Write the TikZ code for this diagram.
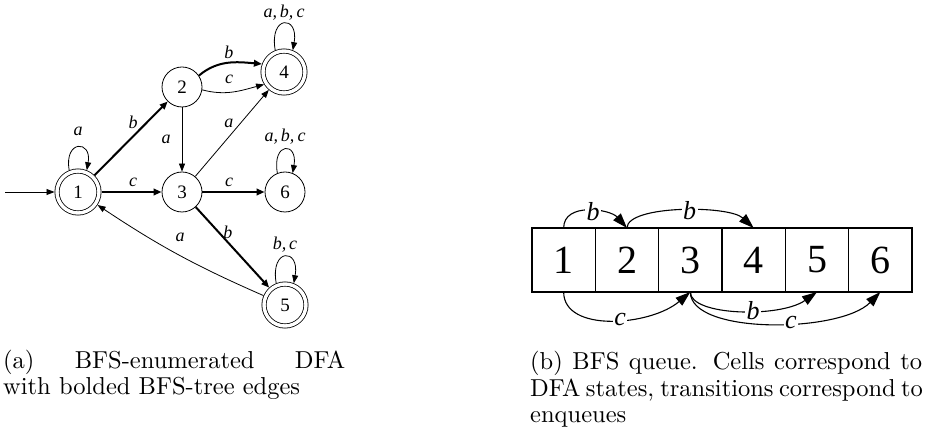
\documentclass[tikz,border=0pt]{standalone}
\usepackage{fontspec}
\newfontfamily\tms{Liberation Serif}
\newfontfamily\capfont{lmroman10-regular.otf}
\usetikzlibrary{arrows.meta}

\begin{document}
\begin{tikzpicture}[x=1pt,y=1pt,
  state/.style={circle, draw, line width=0.8pt, minimum size=40pt, inner sep=0pt,
    font=\tms\fontsize{19}{19}\selectfont},
  accepting/.style={double, double distance=3.4pt, outer sep=2.5pt, minimum size=42pt},
  thinedge/.style={line width=0.8pt, -{Triangle[length=8pt,width=6pt]}},
  boldedge/.style={line width=2pt, -{Triangle[length=8pt,width=6.5pt]}},
  lbl/.style={inner sep=1pt, font=\tms\itshape\fontsize{18}{18}\selectfont},
  cell/.style={draw, line width=1.2pt, minimum width=63.33pt, minimum height=64pt,
    inner sep=0pt, outer sep=0pt, font=\tms\fontsize{40}{40}\selectfont},
  qarrow/.style={line width=1.1pt, -{Triangle[length=15pt,width=10pt]}},
  qlbl/.style={fill=white, inner sep=1.5pt, font=\tms\itshape\fontsize{26}{26}\selectfont},
  caption/.style={inner sep=0pt, anchor=base west,
    font=\capfont\fontsize{24.5}{26.5}\selectfont}
]
\useasboundingbox (0,0) rectangle (934,431);

% ---------- DFA ----------
\node[state, accepting] (n1) at (78,239) {1};
\node[state]            (n2) at (182,344) {2};
\node[state]            (n3) at (182,239) {3};
\node[state, accepting] (n4) at (284,359) {4};
\node[state]            (n6) at (285,239) {6};
\node[state, accepting] (n5) at (285,126) {5};
\coordinate (init) at (5,239);

\draw[thinedge] (init) -- (n1);

% BFS-tree edges
\draw[boldedge] (n1) -- node[lbl, xshift=2pt, yshift=16.4pt] {b} (n2);
\draw[boldedge] (n1) -- node[lbl, xshift=1.5pt, yshift=10pt] {c} (n3);
\draw[boldedge] (n2.34) to[out=40, in=175]
  node[lbl, xshift=0.7pt, yshift=11pt] {b} (n4.160);
\draw[boldedge] (n3) -- node[lbl, xshift=-4.5pt, yshift=10pt] {c} (n6);
\draw[boldedge] (n3) -- node[lbl, xshift=-4.5pt, yshift=15.4pt] {b} (n5);

% remaining transitions
\draw[thinedge] (n2.-8) to[out=-15, in=195]
  node[lbl, xshift=-4pt, yshift=12pt] {c} (n4.212);
\draw[thinedge] (n2) -- node[lbl, xshift=-16pt, yshift=0.5pt] {a} (n3);
\draw[thinedge] (n3) -- node[lbl, xshift=-3pt, yshift=10.2pt] {a} (n4);
\draw[thinedge] (n5) to[bend left=5] node[lbl, xshift=2pt, yshift=17pt] {a} (n1);

% self loops
\draw[thinedge] (n1.112) .. controls +(100:31) and +(80:31) .. (n1.68)
  node[lbl, pos=0.5, above=10pt] {a};
\draw[thinedge] (n4.112) .. controls +(100:36) and +(80:36) .. (n4.68)
  node[lbl, pos=0.5, above=2pt] {a,\,b,\,c};
\draw[thinedge] (n6.112) .. controls +(100:32) and +(80:32) .. (n6.68)
  node[lbl, pos=0.5, above=4pt] {a,\,b,\,c};
\draw[thinedge] (n5.112) .. controls +(100:36) and +(80:36) .. (n5.68)
  node[lbl, pos=0.5, above=3pt] {b,\,c};

% ---------- BFS queue ----------
\node[cell] (q1) at (563.67,171) {1};
\node[cell] (q2) at (627.00,171) {2};
\node[cell] (q3) at (690.33,171) {3};
\node[cell] (q4) at (753.67,171) {4};
\node[cell] (q5) at (817.00,171) {5};
\node[cell] (q6) at (880.33,171) {6};

\draw[qarrow] (q1.north) .. controls +(0,26) and +(-17,19) .. (q2.north)
  node[qlbl, pos=0.55] {b};
\draw[qarrow] (q2.north) .. controls +(0,23) and +(-25,23) .. (q4.north)
  node[qlbl, pos=0.55] {b};
\draw[qarrow] (q1.south) .. controls +(0,-41) and +(-40,-34) .. (q3.south)
  node[qlbl, pos=0.55] {c};
\draw[qarrow] (q3.south) .. controls +(0,-24) and +(-37,-26) .. (q5.south)
  node[qlbl, pos=0.58] {b};
\draw[qarrow] (q3.south) .. controls +(0,-43) and +(-40,-41) .. (q6.south)
  node[qlbl, pos=0.58] {c};

% ---------- captions ----------
\node[caption] (capa) at (3,63) {\parbox[t]{342pt}{%
  \makebox[\linewidth][s]{(a) BFS-enumerated DFA}\\
  with bolded BFS-tree edges}};
\node[caption] (capb) at (530,61) {\parbox[t]{392pt}{%
  \makebox[\linewidth][s]{(b) BFS queue. Cells correspond to}\\
  \makebox[\linewidth][s]{DFA states, transitions correspond to}\\
  enqueues}};
\end{tikzpicture}
\end{document}
